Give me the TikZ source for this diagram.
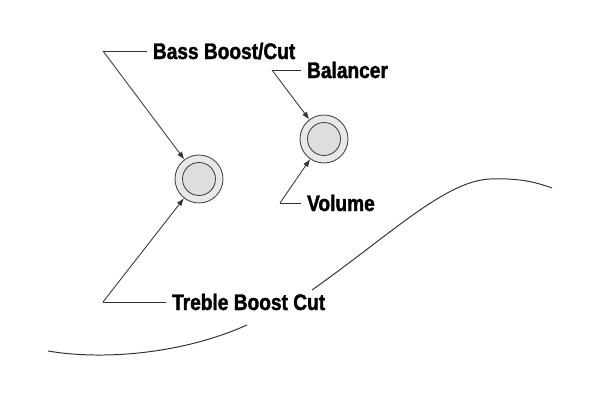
\documentclass[tikz,border=0pt]{standalone}
\usepackage{fontspec}
\newfontfamily\lblfont[FakeStretch=0.85, BoldFeatures={FakeBold=1.6}]{Liberation Sans}
\usetikzlibrary{positioning,arrows.meta}

\tikzset{
  knobring/.style={circle, draw=black!75, line width=0.6pt, fill=black!9, minimum size=48*0.025cm, inner sep=0pt},
  knobcap/.style={circle, draw=black!75, line width=0.6pt, fill=black!13, minimum size=33*0.025cm, inner sep=0pt},
  lbl/.style={font=\lblfont\bfseries\fontsize{16}{16}\selectfont, inner sep=4pt, text height=11.4pt, text depth=0pt},
  leader/.style={draw=black!80, line width=0.6pt},
  pointer/.style={leader, -{Latex[length=5.5pt,width=4pt]}}
}

\begin{document}
\begin{tikzpicture}[x=0.025cm, y=-0.025cm]

    % Fix the frame
    \useasboundingbox (0,0) rectangle (600,400);

    % Knobs
    \node[knobring] (tone) at (199,179) {};
    \node[knobcap] at (tone) {};
    \node[knobring] (bal) at (324,139) {};
    \node[knobcap] at (bal) {};

    % Corners of the leaders
    \coordinate (bassC) at (103,51);
    \coordinate (balC) at (272,70);
    \coordinate (volC) at (280,203);
    \coordinate (trebC) at (103,302);

    % Labels
    \node[lbl, anchor=west, right=1.1cm of bassC] (bass) {Bass Boost/Cut};
    \node[lbl, anchor=west, right=0.73cm of balC] (balancer) {Balancer};
    \node[lbl, anchor=west, right=0.53cm of volC] (volume) {Volume};
    \node[lbl, anchor=west, right=1.58cm of trebC] (treble) {Treble Boost Cut};

    % Leaders
    \draw[leader] (bass.west) -- (bassC);
    \draw[pointer] (bassC) -- (tone);
    \draw[leader] (balancer.west) -- (balC);
    \draw[pointer] (balC) -- (bal);
    \draw[leader] (volume.west) -- (volC);
    \draw[pointer] (volC) -- (bal);
    \draw[leader] (treble.west) -- (trebC);
    \draw[pointer] (trebC) -- (tone);

    % Body outline, broken behind the lower label
    \draw[black!80, line width=0.7pt] (48,351) .. controls (100,360) and (180,355) .. (247,325);
    \draw[black!80, line width=0.7pt] (312,290) .. controls (390,235) and (445,181) .. (490,179)
        .. controls (520,178) and (535,182) .. (552,188);

\end{tikzpicture}
\end{document}
